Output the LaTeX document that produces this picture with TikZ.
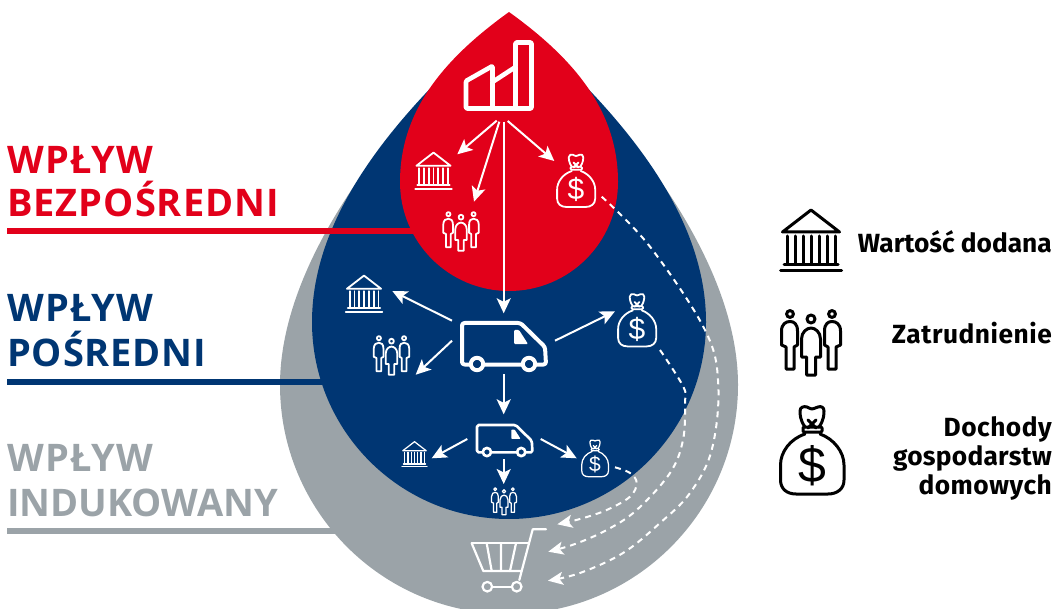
\documentclass[tikz,border=0pt]{standalone}
\usepackage{fontspec}
\setmainfont{Open Sans}
\newfontfamily\legendfont{Fira Sans}
\newfontfamily\dollarfont{Liberation Sans}
\usetikzlibrary{arrows.meta}
\definecolor{dropred}{HTML}{E2001A}
\definecolor{dropblue}{HTML}{003673}
\definecolor{dropgray}{HTML}{9BA3A8}
\tikzset{
  headline/.style={anchor=base west,inner sep=0pt,font=\fontsize{38}{38}\selectfont\bfseries},
  legendtext/.style={anchor=base east,inner sep=0pt,font=\legendfont\fontsize{26.3}{26.3}\selectfont\bfseries},
  rulebar/.style={line width=6pt},
  arrowline/.style={white,line width=2pt,-{Stealth[length=15pt,width=14pt,inset=3.5pt]}},
  dashline/.style={white,line width=2pt,dash pattern=on 6pt off 5pt,-{Stealth[length=15pt,width=13pt,inset=3.5pt]}},
  icon/.style={line join=round,line cap=round}
}
\newcommand{\bankicon}[4]{%
\begin{scope}[shift={(#1,#2)},scale=#3,icon,draw=#4,line width=#3*3pt]
 \draw (0,-30) -- (-28.5,-8) -- (28.5,-8) -- cycle;
 \draw (-24,-4) -- (-24,24) (-16,-4) -- (-16,24) (-8,-4) -- (-8,24) (0,-4) -- (0,24) (8,-4) -- (8,24) (16,-4) -- (16,24) (24,-4) -- (24,24);
 \draw (-27,24.5) -- (27,24.5);
 \draw (-30.5,31) -- (30.5,31);
\end{scope}}
\newcommand{\peopleicon}[4]{%
\begin{scope}[shift={(#1,#2)},scale=#3,icon,draw=#4,line width=#3*3pt]
 \draw (-21,-28) circle[radius=3.4];
 \draw (21,-28) circle[radius=3.4];
 \draw (0,-23) circle[radius=4];
 \draw (-25,27) -- (-25,5) -- (-29.5,3) -- (-29.5,-11) .. controls (-29.5,-18) and (-25,-20.5) .. (-21,-20.5) .. controls (-17,-20.5) and (-13.5,-18) .. (-13.5,-11) -- (-13.5,3) -- (-17,5) -- (-17,27) -- cycle;
 \draw (25,27) -- (25,5) -- (29.5,3) -- (29.5,-11) .. controls (29.5,-18) and (25,-20.5) .. (21,-20.5) .. controls (17,-20.5) and (13.5,-18) .. (13.5,-11) -- (13.5,3) -- (17,5) -- (17,27) -- cycle;
 \draw (-4.5,33) -- (-4.5,15) -- (-9.5,15) -- (-9.5,-3) .. controls (-9.5,-10) and (-4,-14) .. (0,-14) .. controls (4,-14) and (9.5,-10) .. (9.5,-3) -- (9.5,15) -- (4.5,15) -- (4.5,33) -- cycle;
\end{scope}}
\newcommand{\bagicon}[5]{%
\begin{scope}[shift={(#1,#2)},scale=#3,icon,draw=#4,line width=#3*3pt]
 \draw (-7,-16) .. controls (-22,-11) and (-31.5,2) .. (-31.5,15) -- (-31.5,30) .. controls (-31.5,39) and (-25,44) .. (-16,44) -- (16,44) .. controls (25,44) and (32,39) .. (32,30) -- (32,15) .. controls (32,2) and (22,-11) .. (8,-16);
 \draw (-7,-23) .. controls (-12,-30) and (-12,-36) .. (-12,-39) .. controls (-12,-43) and (-8,-44) .. (-5,-43) .. controls (-3,-42) and (-1,-41) .. (0,-41) .. controls (1,-41) and (3,-42) .. (6,-43) .. controls (9,-44) and (12,-43) .. (12,-39) .. controls (12,-36) and (12,-30) .. (7,-23);
 \draw (-4,-30) -- (4,-22) (4,-30) -- (-4,-22);
 \draw[rounded corners=1pt] (-9,-23) rectangle (10,-18);
 \node[transform shape,inner sep=0pt,text=#4,font=\dollarfont\fontsize{50}{50}\selectfont] (#5) at (0,15.5) {\$};
\end{scope}}
\newcommand{\vanicon}[4]{%
\begin{scope}[shift={(#1,#2)},scale=#3,icon,line width=#3*4pt]
 \draw[white,rounded corners=#3*2.5pt] (-43,19.5) -- (-43,-22) -- (15.5,-22) -- (40,2) -- (41,19.5) -- cycle;
 \fill[white,rounded corners=#3*1pt] (9,-15) -- (14,-15) -- (23,-1) -- (9,-1) -- cycle;
 \draw[white,fill=#4] (-28,19) circle[radius=6.2];
 \draw[white,fill=#4] (24,19) circle[radius=6.2];
\end{scope}}
\begin{document}
\begin{tikzpicture}[x=1pt,y=-1pt]
\useasboundingbox (0,0) rectangle (1062,609);
\begin{scope}
\clip (0,0) rectangle (1062,609);
% gray drop
\fill[dropgray] (509,14) .. controls (400,110) and (280,255) .. (280,385) arc[start angle=180,end angle=0,radius=229] .. controls (738,255) and (618,110) .. (509,14) -- cycle;
\draw[rulebar,dropgray] (7,531) -- (340,531);
\draw[rulebar,dropblue] (7,382) -- (330,382);
% blue drop
\fill[dropblue] (509,14) .. controls (410,100) and (312,205) .. (312,322) arc[start angle=180,end angle=0,radius=197] .. controls (706,205) and (608,100) .. (509,14) -- cycle;
\draw[rulebar,dropred] (7,231) -- (420,231);
% red drop
\fill[dropred] (509,12) .. controls (445,58) and (400,110) .. (400,182) arc[start angle=180,end angle=0,radius=109] .. controls (618,110) and (573,58) .. (509,12) -- cycle;
\end{scope}
% headings
\node[headline,text=dropred] (h1a) at (7,173.5) {\addfontfeature{LetterSpace=3}WPŁYW};
\node[headline,text=dropred] (h1b) at (7,216.7) {\addfontfeature{LetterSpace=2.6}BEZPOŚREDNI};
\node[headline,text=dropblue] (h2a) at (7,321.7) {\addfontfeature{LetterSpace=3}WPŁYW};
\node[headline,text=dropblue] (h2b) at (7,366.7) {\addfontfeature{LetterSpace=2.3}POŚREDNI};
\node[headline,text=dropgray] (h3a) at (7,471.7) {\addfontfeature{LetterSpace=3}WPŁYW};
\node[headline,text=dropgray] (h3b) at (7,516.7) {INDUKOWANY};
% factory
\begin{scope}[icon,white,line width=4.6pt]
 \draw[rounded corners=1pt] (466,108.5) -- (466,81) -- (492.5,66) -- (492.5,82) -- (515.5,67) -- (515.5,42.5) -- (531.5,42.5) -- (531.5,108.5) -- cycle;
 \draw (492.5,82) -- (492.5,108.5);
 \draw (515.5,67) -- (515.5,108.5);
\end{scope}
% red level icons
\bankicon{433.5}{170.6}{0.6}{white}
\peopleicon{461}{231}{0.6}{white}
\bagicon{576}{180.6}{0.6}{white}{d1}
% blue level icons
\bankicon{364}{293.6}{0.6}{white}
\peopleicon{391.5}{355}{0.6}{white}
\bagicon{637}{320}{0.6}{white}{d2}
\vanicon{505}{345}{1}{dropblue}
% small icons
\bankicon{414.5}{454}{0.41}{white}
\peopleicon{504}{501}{0.42}{white}
\bagicon{595}{458.2}{0.42}{white}{d3}
\vanicon{505.4}{439.5}{0.66}{dropblue}
% cart
\begin{scope}[icon,white,line width=2.2pt]
 \draw (546,529.3) -- (532.7,529.3) -- (519.3,580);
 \draw (471.7,543.3) -- (528.3,543.3);
 \draw (471.7,543.3) -- (483.3,571) -- (521.5,571);
 \draw (486.7,543.3) -- (491.7,571) (501,543.3) -- (501,571) (516,543.3) -- (510,571);
 \draw (487.3,586.7) circle[radius=4.8];
 \draw (516.7,586.7) circle[radius=4.8];
 \draw (492.1,586.7) -- (511.9,586.7);
\end{scope}
% connector ends
\coordinate (f1) at (496.7,120.7);
\coordinate (f2) at (499.3,121.7);
\coordinate (f3) at (503.7,121.7);
\coordinate (f4) at (507.7,121);
\coordinate (bank1) at (457.3,154.3);
\coordinate (people1) at (474,201.7);
\coordinate (bag1) at (554.3,161);
\coordinate (van1) at (503.7,313.3);
\coordinate (v1a) at (452,320.7);
\coordinate (v1b) at (452,340.7);
\coordinate (v1c) at (555,340.7);
\coordinate (v1d) at (503.7,374);
\coordinate (bank2) at (392.3,291);
\coordinate (people2) at (415.7,374.7);
\coordinate (bag2) at (615,311.3);
\coordinate (van2) at (503.7,414.3);
\coordinate (v2a) at (467.3,439);
\coordinate (v2b) at (540.7,439);
\coordinate (v2c) at (503.7,459);
\coordinate (bank3) at (431.7,458.3);
\coordinate (bag3) at (576.7,458.3);
\coordinate (people3) at (503.7,484);
\coordinate (sA) at (601.7,196.7);
\coordinate (sB) at (660,350);
\coordinate (sC) at (615,467.3);
\coordinate (cartA) at (548,580.7);
\coordinate (cartB) at (548.3,551.7);
\coordinate (cartC) at (557.3,524.3);
% arrows
\draw[arrowline] (f1) -- (bank1);
\draw[arrowline] (f2) -- (people1);
\draw[arrowline] (f4) -- (bag1);
\draw[arrowline] (f3) -- (van1);
\draw[arrowline] (v1a) -- (bank2);
\draw[arrowline] (v1b) -- (people2);
\draw[arrowline] (v1c) -- (bag2);
\draw[arrowline] (v1d) -- (van2);
\draw[arrowline] (v2a) -- (bank3);
\draw[arrowline] (v2b) -- (bag3);
\draw[arrowline] (v2c) -- (people3);
% dashed
\draw[dashline] plot[smooth,tension=.6] coordinates {(sA) (650,246.7) (705,330) (718.3,385) (711.7,450) (690,493) (660,523) (623,553) (580,573) (cartA)};
\draw[dashline] plot[smooth,tension=.6] coordinates {(sB) (683.3,386.7) (685,403) (683,440) (670,473) (636.7,510) (606.7,530) (575,544) (cartB)};
\draw[dashline] plot[smooth,tension=.6] coordinates {(sC) (630,473) (636.7,483) (630,496.7) (606.7,510) (580,519) (cartC)};
% legend
\bankicon{811}{240}{1}{black}
\peopleicon{811}{342}{1}{black}
\bagicon{812}{450}{1}{black}{d4}
\node[legendtext] (l1) at (1052,252.7) {Wartość dodana};
\node[legendtext] (l2) at (1052,344) {\addfontfeature{LetterSpace=2}Zatrudnienie};
\node[legendtext] (l3a) at (1052,436) {\addfontfeature{LetterSpace=2}Dochody};
\node[legendtext] (l3b) at (1052,465) {\addfontfeature{LetterSpace=1}gospodarstw};
\node[legendtext] (l3c) at (1052,494.5) {\addfontfeature{LetterSpace=2}domowych};
\end{tikzpicture}
\end{document}
